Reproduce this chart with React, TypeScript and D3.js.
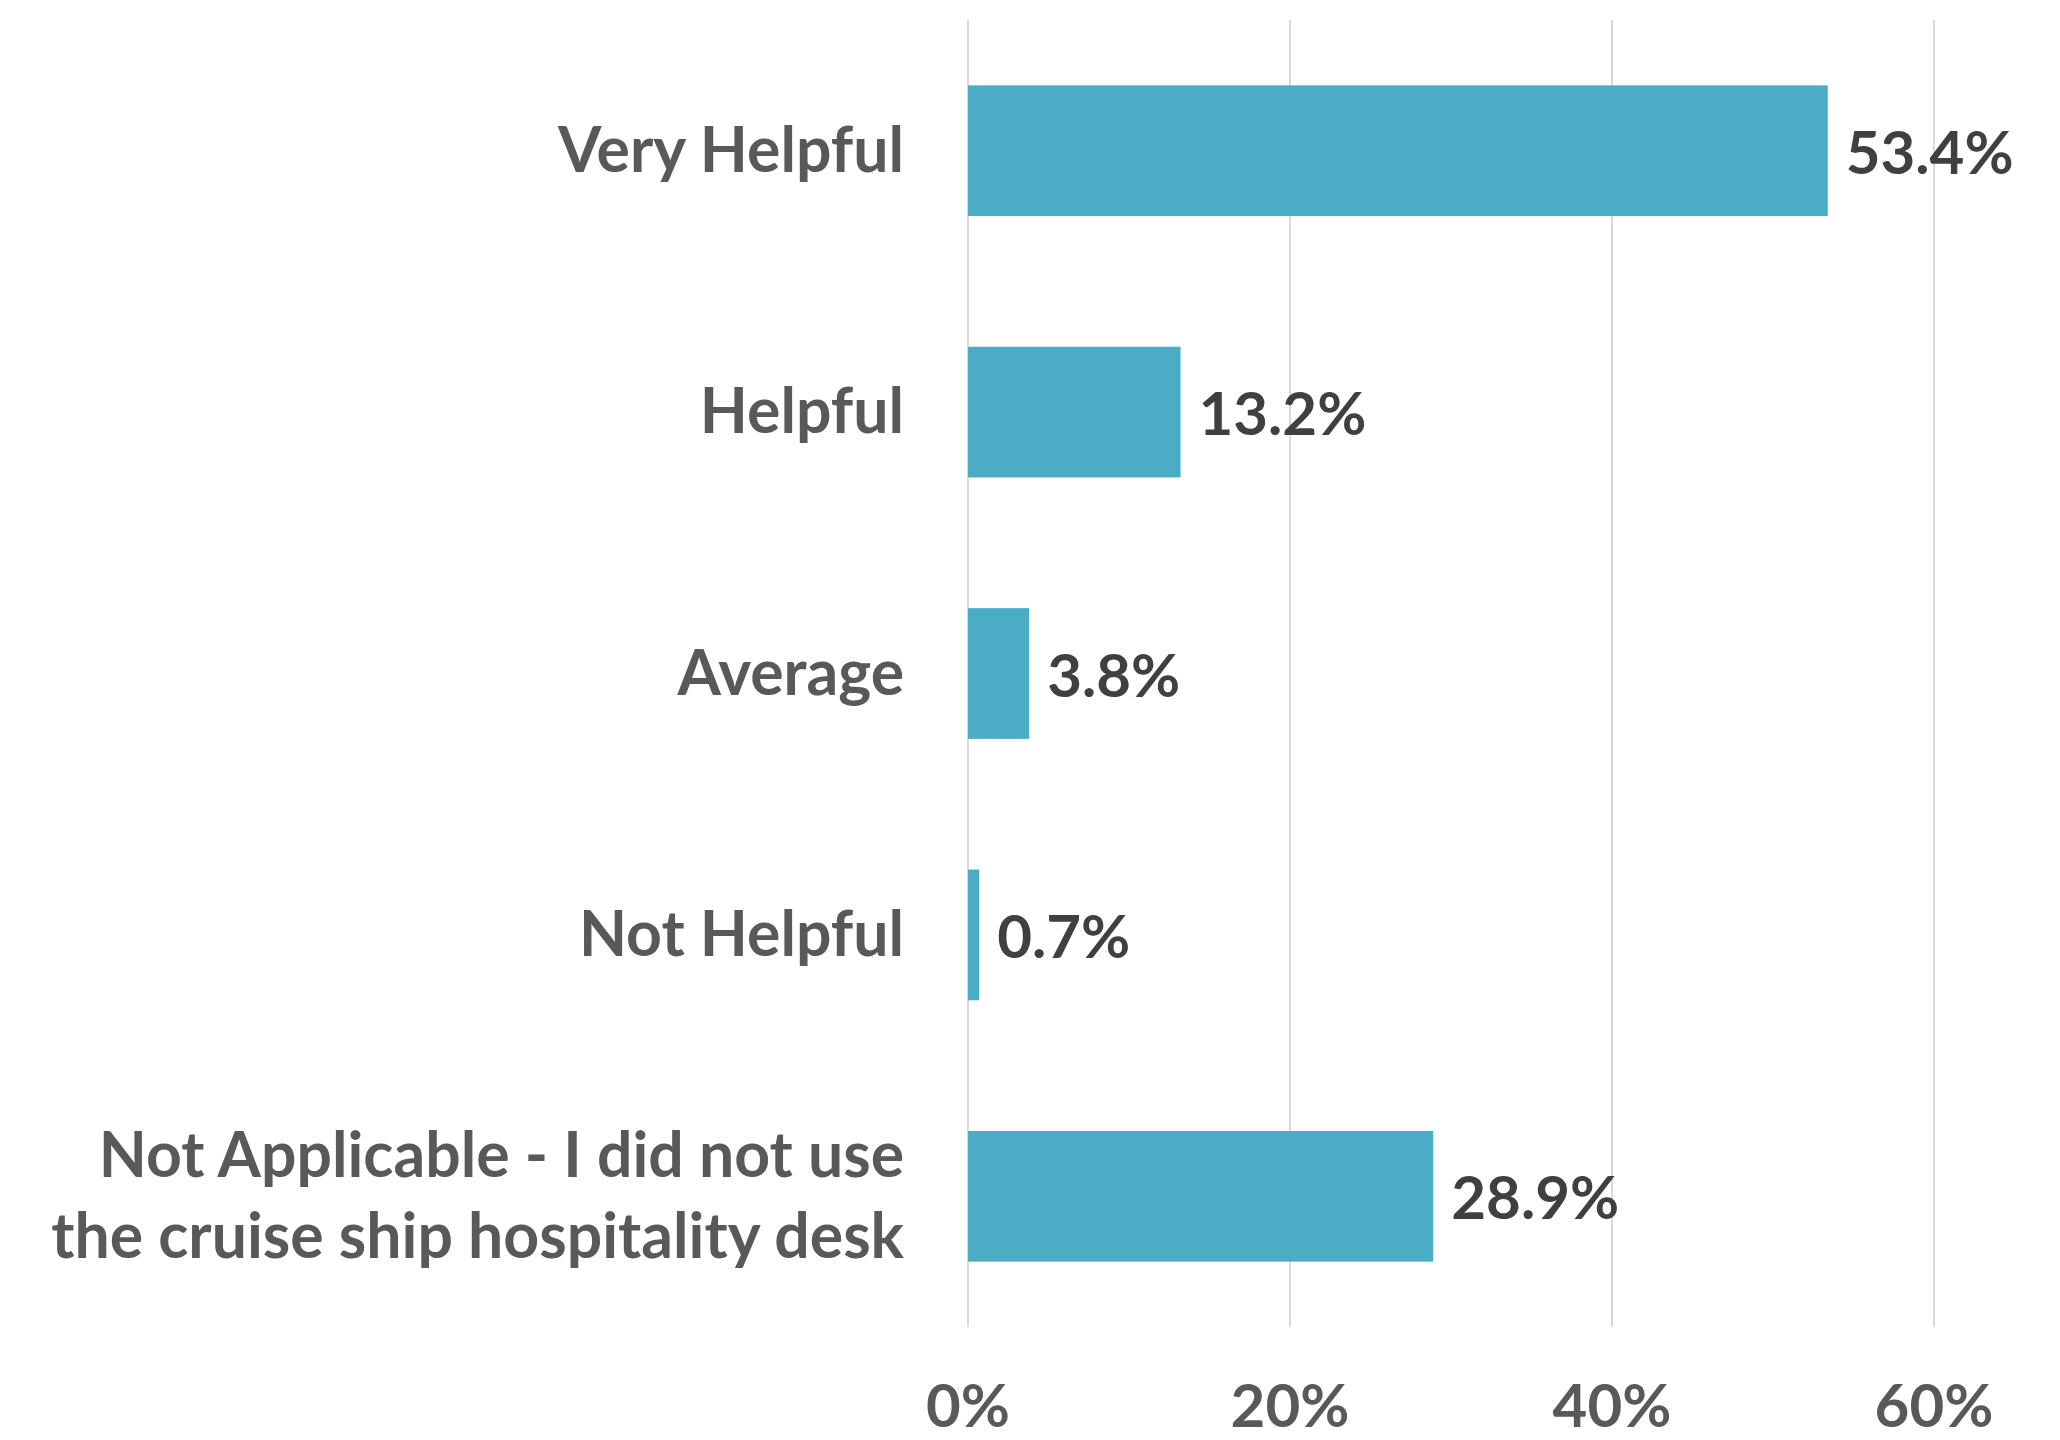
import React from "react";
import * as d3 from "d3";

// Survey responses: how helpful was the cruise ship hospitality desk
const categories = [
  "Very Helpful",
  "Helpful",
  "Average",
  "Not Helpful",
  "Not Applicable - I did not use the cruise ship hospitality desk",
];
const categoryLines = [
  ["Very Helpful"],
  ["Helpful"],
  ["Average"],
  ["Not Helpful"],
  ["Not Applicable - I did not use", "the cruise ship hospitality desk"],
];
const values = [53.4, 13.2, 3.8, 0.7, 28.9];
const tickValues = [0, 20, 40, 60];

const W = 2060;
const H = 1440;
const FONT = "Lato, 'Open Sans', sans-serif";

export default function App() {
  const x = d3.scaleLinear().domain([0, 60]).range([968, 1934]);
  const y = d3
    .scaleBand<string>()
    .domain(categories)
    .range([20, 1327])
    .paddingInner(0.5)
    .paddingOuter(0.25);

  const lineGap = 81;

  return (
    <svg
      width={W}
      height={H}
      style={{ position: "absolute", left: 0, top: 0, background: "#fff" }}
      fontFamily={FONT}
      fontWeight={700}
    >
      <rect x={0} y={0} width={W} height={H} fill="#ffffff" />
      {/* vertical gridlines */}
      {tickValues.map((t) => (
        <line
          key={"g" + t}
          x1={x(t)}
          x2={x(t)}
          y1={20}
          y2={1327}
          stroke="#d9d9d9"
          strokeWidth={2}
        />
      ))}
      {/* bars */}
      {categories.map((c, i) => (
        <rect
          key={"b" + c}
          x={x(0)}
          y={y(c)!}
          width={x(values[i]) - x(0)}
          height={y.bandwidth()}
          fill="#4bacc6"
        />
      ))}
      {/* value labels */}
      {categories.map((c, i) => {
        const cy = y(c)! + y.bandwidth() / 2;
        return (
          <text
            key={"v" + c}
            x={x(values[i]) + 18}
            y={cy + 23}
            fontSize={60}
            fill="#404040"
          >
            {values[i].toFixed(1) + "%"}
          </text>
        );
      })}
      {/* category labels */}
      {categories.map((c, i) => {
        const cy = y(c)! + y.bandwidth() / 2;
        const lines = categoryLines[i];
        const first = cy + 21 - ((lines.length - 1) * lineGap) / 2;
        return (
          <text key={"c" + c} textAnchor="end" fontSize={62.5} fill="#595959">
            {lines.map((ln, j) => (
              <tspan key={j} x={904} y={first + j * lineGap}>
                {ln}
              </tspan>
            ))}
          </text>
        );
      })}
      {/* x-axis tick labels */}
      {tickValues.map((t) => (
        <text
          key={"t" + t}
          x={x(t)}
          y={1427}
          textAnchor="middle"
          fontSize={60}
          fill="#595959"
        >
          {t + "%"}
        </text>
      ))}
    </svg>
  );
}
